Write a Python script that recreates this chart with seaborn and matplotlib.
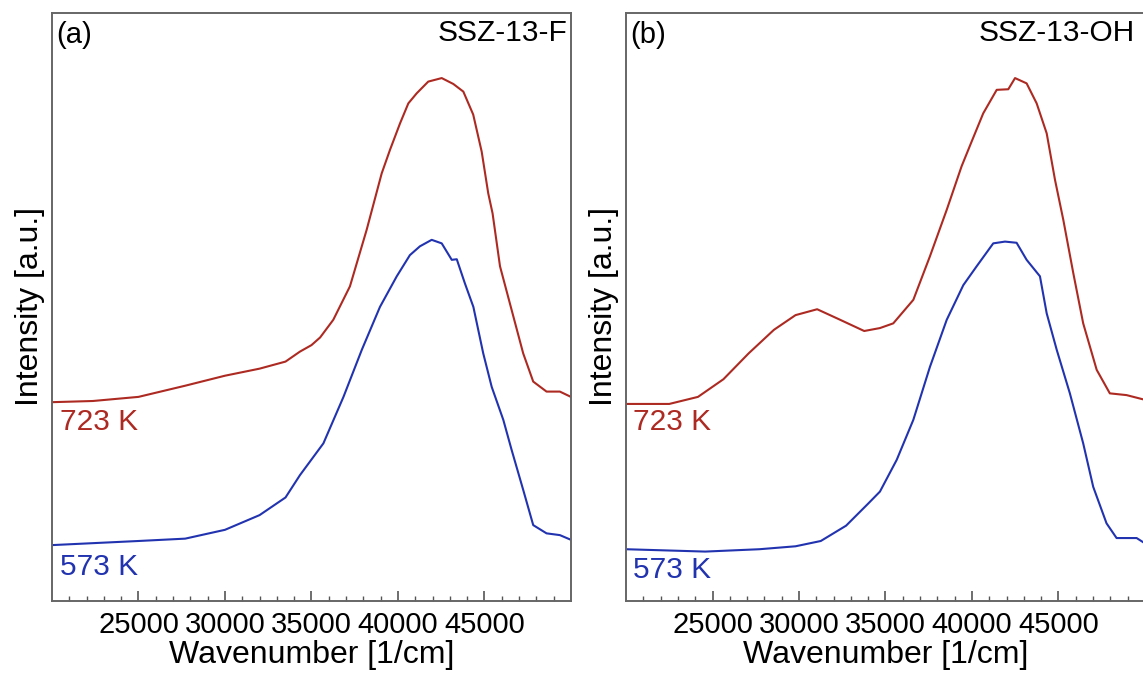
"""
UV-Vis spectra of SSZ-13-F and SSZ-13-OH at two temperatures.
Saves out.png
"""

import pandas as pd
import matplotlib.pyplot as plt
import seaborn as sns

# --- Data (intensity in axis fraction, offset included) ---
wn_a_723 = [20000, 22360, 25000, 27700, 30000, 32000, 33500, 34335, 35000, 35500,
            36260, 37225, 38190, 39060, 39540, 40120, 40600, 41080, 41750, 42530,
            43200, 43780, 44350, 44840, 45220, 45470, 45900, 46470, 47240, 47820,
            48590, 49360, 50000]
int_a_723 = [0.338, 0.340, 0.347, 0.366, 0.383, 0.395, 0.407, 0.424, 0.435, 0.448,
             0.478, 0.535, 0.631, 0.727, 0.767, 0.812, 0.846, 0.863, 0.883, 0.889,
             0.879, 0.866, 0.827, 0.764, 0.693, 0.659, 0.569, 0.506, 0.421, 0.373,
             0.356, 0.356, 0.347]

wn_a_573 = [20000, 25000, 27700, 30000, 32000, 33500, 34335, 35690, 36850, 37910,
            38960, 39930, 40690, 41270, 41950, 42530, 43110, 43400, 43870, 44360,
            44930, 45420, 46090, 46570, 47240, 47820, 48590, 49360, 50000]
int_a_573 = [0.095, 0.102, 0.106, 0.121, 0.146, 0.176, 0.214, 0.268, 0.347, 0.427,
             0.500, 0.552, 0.588, 0.603, 0.614, 0.608, 0.580, 0.581, 0.540, 0.500,
             0.421, 0.364, 0.308, 0.257, 0.189, 0.129, 0.115, 0.112, 0.104]

wn_b_723 = [20000, 22500, 24160, 25630, 27090, 28550, 29800, 31050, 32310, 33770,
            34680, 35450, 36610, 37570, 38540, 39400, 39980, 40650, 41430, 42100,
            42490, 43160, 43740, 44320, 44800, 45280, 45860, 46430, 47210, 47970,
            48940, 50000]
int_b_723 = [0.335, 0.335, 0.347, 0.377, 0.421, 0.461, 0.486, 0.496, 0.479, 0.459,
             0.464, 0.472, 0.512, 0.586, 0.665, 0.739, 0.781, 0.829, 0.869, 0.870,
             0.889, 0.880, 0.846, 0.795, 0.716, 0.648, 0.557, 0.472, 0.393, 0.353,
             0.350, 0.342]

wn_b_573 = [20000, 24580, 27710, 29800, 31260, 32720, 33980, 34680, 35650, 36610,
            37570, 38540, 39500, 40270, 41230, 41910, 42580, 43160, 43930, 44320,
            44900, 45660, 46430, 47010, 47780, 48360, 49520, 50000]
int_b_573 = [0.088, 0.084, 0.088, 0.093, 0.102, 0.128, 0.165, 0.186, 0.240, 0.308,
             0.398, 0.478, 0.537, 0.569, 0.608, 0.611, 0.609, 0.580, 0.552, 0.489,
             0.427, 0.353, 0.268, 0.194, 0.132, 0.107, 0.107, 0.098]

temps = ['723 K', '573 K']
samples = ['SSZ-13-F', 'SSZ-13-OH']
letters = ['(a)', '(b)']

RED = '#ad2a22'
BLUE = '#2233b0'
palette = {'723 K': RED, '573 K': BLUE}


def montar_df(wn, inten, sample, temp):
    return pd.DataFrame({'wn': wn, 'I': inten, 'sample': sample, 'temp': temp})


df = pd.concat([
    montar_df(wn_a_723, int_a_723, samples[0], temps[0]),
    montar_df(wn_a_573, int_a_573, samples[0], temps[1]),
    montar_df(wn_b_723, int_b_723, samples[1], temps[0]),
    montar_df(wn_b_573, int_b_573, samples[1], temps[1]),
], ignore_index=True)

sns.set_theme(style="ticks")
plt.rcParams['font.family'] = ['Liberation Sans', 'DejaVu Sans']
plt.rcParams['text.color'] = 'black'
plt.rcParams['axes.labelcolor'] = 'black'
plt.rcParams['xtick.labelcolor'] = 'black'

fig = plt.figure(figsize=(11.43, 6.73), dpi=100)
ax_a = fig.add_axes([0.0455, 0.107, 0.454, 0.874])
ax_b = fig.add_axes([0.5477, 0.107, 0.454, 0.874])

# label positions (data x, axis fraction y) and title x positions
label_pos = {
    0: {'723 K': (20450, 0.304), '573 K': (20450, 0.057)},
    1: {'723 K': (20400, 0.304), '573 K': (20400, 0.053)},
}
title_x = [0.994, 0.981]

for i, (ax, sample) in enumerate(zip([ax_a, ax_b], samples)):
    sub = df[df['sample'] == sample]
    sns.lineplot(data=sub, x='wn', y='I', hue='temp', palette=palette,
                 estimator=None, linewidth=1.5, legend=False, ax=ax)

    ax.set_xlim(20000, 50000)
    ax.set_ylim(0, 1)
    ax.set_xticks([25000, 30000, 35000, 40000, 45000])
    ax.set_xticks(range(21000, 50000, 1000), minor=True)
    ax.set_yticks([])
    ax.tick_params(axis='x', which='major', direction='in', length=7, width=1.2,
                   color='#555555', labelsize=21, pad=7)
    ax.tick_params(axis='x', which='minor', direction='in', length=3.5, width=1,
                   color='#555555')
    for sp in ax.spines.values():
        sp.set_visible(True)
        sp.set_color('#666666')
        sp.set_linewidth(1.4)

    ax.set_xlabel('Wavenumber [1/cm]', fontsize=23, labelpad=1)
    ax.set_ylabel('Intensity [a.u.]', fontsize=23, labelpad=5)

    ax.text(0.008, 0.962, letters[i], transform=ax.transAxes, fontsize=21,
            ha='left', va='center')
    ax.text(title_x[i], 0.966, sample, transform=ax.transAxes, fontsize=21.5,
            ha='right', va='center')

    for t in temps:
        x, y = label_pos[i][t]
        ax.text(x, y, t, color=palette[t], fontsize=21.5, ha='left', va='center')

fig.savefig('out.png', dpi=100)
